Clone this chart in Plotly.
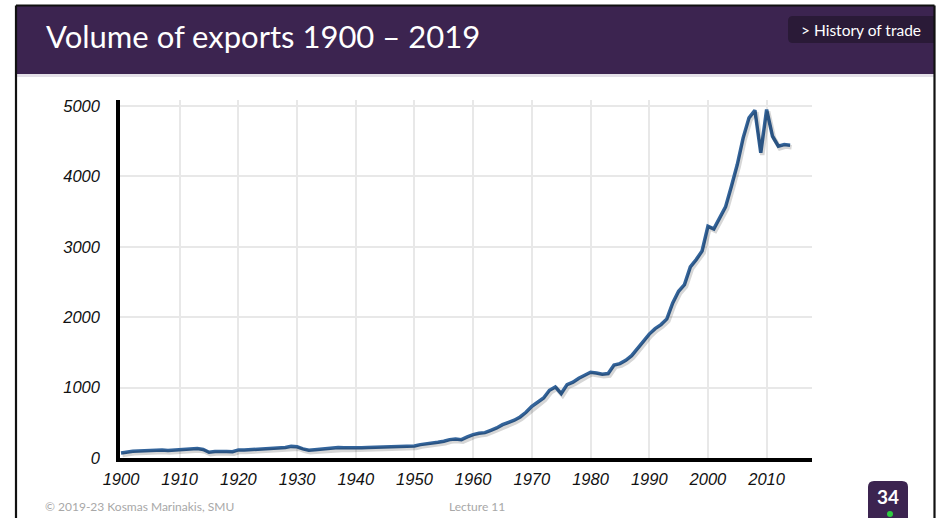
import plotly.graph_objects as go

# ---------------- data ----------------
years = list(range(1900, 2015))
exports = [
    72, 88, 95, 100, 105, 108, 106, 112, 108, 114,          # 1900-1909
    119, 122, 128, 134, 122, 82, 92, 98, 94, 90,            # 1910-1919
    115, 112, 118, 121, 125, 130, 134, 138, 150, 165,       # 1920-1929
    160, 130, 110, 118, 126, 132, 138, 150, 145, 142,       # 1930-1939
    145, 147, 148, 150, 152, 154, 155, 156, 158, 160,       # 1940-1949
    170, 190, 200, 205, 224, 238, 261, 271, 261, 299,       # 1950-1959
    332, 351, 360, 394, 427, 474, 507, 536, 583, 649,       # 1960-1969
    735, 792, 853, 962, 1010, 915, 1043, 1076, 1133, 1175,  # 1970-1979
    1218, 1208, 1189, 1199, 1322, 1341, 1388, 1454, 1563, 1658,  # 1980-1989
    1760, 1838, 1895, 1976, 2203, 2368, 2463, 2714, 2818, 2941,  # 1990-1999
    3291, 3254, 3410, 3566, 3860, 4168, 4547, 4831, 4939, 4334,  # 2000-2009
    4949, 4570, 4428, 4452, 4442,                                # 2010-2014
]
x_ticks = [1900, 1910, 1920, 1930, 1940, 1950, 1960, 1970, 1980, 1990, 2000, 2010]
y_ticks = [0, 1000, 2000, 3000, 4000, 5000]

title_text = "Volume of exports 1900 – 2019"
tag_text = "&gt; History of trade"
footer_left = "© 2019-23 Kosmas Marinakis, SMU"
footer_mid = "Lecture 11"
page_no = "34"

# ---------------- geometry helpers ----------------
W, H = 943, 518
L, R, T, B = 120, 812, 100, 458  # plot area in pixels


def px(x):
    return (x - L) / (R - L)


def py(y):
    return (B - y) / (B - T)


X_RANGE = [1899.83, 2017.73]
Y_RANGE = [0, 5085]
yrs_per_px = (X_RANGE[1] - X_RANGE[0]) / (R - L)
val_per_px = (Y_RANGE[1] - Y_RANGE[0]) / (B - T)

LINE_COLOR = "#33649b"
PURPLE = "#3c2450"

fig = go.Figure()

# soft shadow of the line (drawn on an overlaid, slightly shifted axis pair)
fig.add_trace(go.Scatter(
    x=years, y=exports, mode="lines",
    line=dict(color="rgba(0,0,0,0.16)", width=4.5),
    xaxis="x2", yaxis="y2", hoverinfo="skip", showlegend=False,
))
fig.add_trace(go.Scatter(
    x=years, y=exports, mode="lines",
    line=dict(color=LINE_COLOR, width=3.5),
    showlegend=False,
))

tickfont = dict(family="Liberation Sans, Arial, sans-serif", size=16.5,
                color="#111111", style="italic")

fig.update_layout(
    width=W, height=H,
    margin=dict(l=L, r=W - R, t=T, b=H - B, pad=0),
    paper_bgcolor="white", plot_bgcolor="white",
    showlegend=False,
    xaxis=dict(
        range=X_RANGE, tickmode="array", tickvals=x_ticks,
        ticktext=[str(v) for v in x_ticks],
        showgrid=True, gridcolor="#e8e8e8", gridwidth=1.5,
        showline=True, linecolor="#000000", linewidth=3.5,
        zeroline=False, ticks="", tickfont=tickfont,
        ticklabelstandoff=3,
    ),
    yaxis=dict(
        range=Y_RANGE, tickmode="array", tickvals=y_ticks,
        ticktext=[str(v) for v in y_ticks],
        showgrid=True, gridcolor="#e8e8e8", gridwidth=1.5,
        showline=True, linecolor="#000000", linewidth=3.5,
        zeroline=False, ticks="", tickfont=tickfont,
        ticklabelstandoff=13,
    ),
    xaxis2=dict(
        overlaying="x", visible=False,
        range=[X_RANGE[0] - 1.5 * yrs_per_px, X_RANGE[1] - 1.5 * yrs_per_px],
    ),
    yaxis2=dict(
        overlaying="y", visible=False,
        range=[Y_RANGE[0] + 2 * val_per_px, Y_RANGE[1] + 2 * val_per_px],
    ),
)

shapes = []
# header band
shapes.append(dict(type="rect", xref="paper", yref="paper",
                   x0=px(17), x1=px(934), y0=py(6), y1=py(74),
                   fillcolor=PURPLE, line=dict(width=0), layer="above"))
shapes.append(dict(type="rect", xref="paper", yref="paper",
                   x0=px(17), x1=px(934), y0=py(74), y1=py(77),
                   fillcolor="#e4e0e8", line=dict(width=0), layer="above"))
# tag box with rounded left corners
tx0, tx1, ty0, ty1, tr = 788, 934, 16, 43, 5
tag_path = (f"M {px(tx1)} {py(ty0)} L {px(tx0 + tr)} {py(ty0)} "
            f"Q {px(tx0)} {py(ty0)} {px(tx0)} {py(ty0 + tr)} "
            f"L {px(tx0)} {py(ty1 - tr)} Q {px(tx0)} {py(ty1)} {px(tx0 + tr)} {py(ty1)} "
            f"L {px(tx1)} {py(ty1)} Z")
shapes.append(dict(type="path", xref="paper", yref="paper", path=tag_path,
                   fillcolor="#2a1a37", line=dict(width=0), layer="above"))
# frame
for (x0, y0, x1, y1) in [(16, 5.5, 934.5, 5.5), (16, 5.5, 16, 520), (934.5, 5.5, 934.5, 520)]:
    shapes.append(dict(type="line", xref="paper", yref="paper",
                       x0=px(x0), x1=px(x1), y0=py(y0), y1=py(y1),
                       line=dict(color="#111111", width=2.2), layer="above"))
# page number box with rounded top
bx0, bx1, by0, by1, r = 868, 908, 481, 520, 6
path = (f"M {px(bx0)} {py(by1)} L {px(bx0)} {py(by0 + r)} "
        f"Q {px(bx0)} {py(by0)} {px(bx0 + r)} {py(by0)} "
        f"L {px(bx1 - r)} {py(by0)} Q {px(bx1)} {py(by0)} {px(bx1)} {py(by0 + r)} "
        f"L {px(bx1)} {py(by1)} Z")
shapes.append(dict(type="path", xref="paper", yref="paper", path=path,
                   fillcolor=PURPLE, line=dict(width=0), layer="above"))
# green dot
shapes.append(dict(type="circle", xref="paper", yref="paper",
                   x0=px(887), x1=px(893), y0=py(511), y1=py(517),
                   fillcolor="#2ecc40", line=dict(width=0), layer="above"))
fig.update_layout(shapes=shapes)

ann = []
ann.append(dict(text=title_text, x=px(44), y=py(36), xref="paper", yref="paper",
                xanchor="left", yanchor="middle", showarrow=False,
                font=dict(family="Lato, sans-serif", size=31, color="white")))
ann.append(dict(text=tag_text, x=px(923), y=py(30), xref="paper", yref="paper",
                xanchor="right", yanchor="middle", showarrow=False,
                font=dict(family="Lato, sans-serif", size=15.5, color="white")))
ann.append(dict(text=footer_left, x=px(43), y=py(506), xref="paper", yref="paper",
                xanchor="left", yanchor="middle", showarrow=False,
                font=dict(family="Lato, sans-serif", size=12, color="#a8a8a8")))
ann.append(dict(text=footer_mid, x=px(447), y=py(506), xref="paper", yref="paper",
                xanchor="left", yanchor="middle", showarrow=False,
                font=dict(family="Lato, sans-serif", size=12, color="#a8a8a8")))
ann.append(dict(text=f"<b>{page_no}</b>", x=px(888), y=py(496), xref="paper", yref="paper",
                xanchor="center", yanchor="middle", showarrow=False,
                font=dict(family="Lato, sans-serif", size=19, color="white")))
fig.update_layout(annotations=ann)

fig.write_html("out.html")
